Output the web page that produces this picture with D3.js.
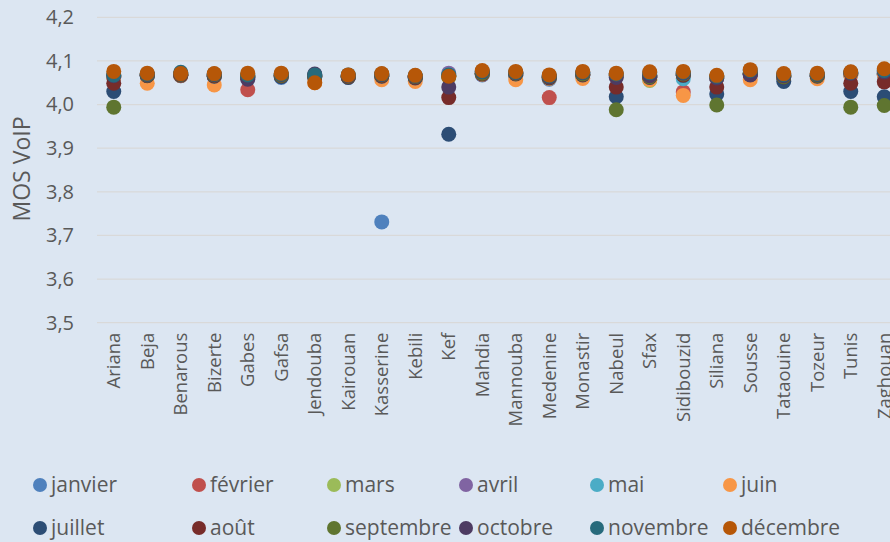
<!DOCTYPE html>
<html><head><meta charset="utf-8">
<script src="https://cdn.jsdelivr.net/npm/d3@7"></script>
<style>html,body{margin:0;padding:0;background:#dce6f2;overflow:hidden}</style>
</head><body><svg id="c" width="890" height="542"></svg>
<script>
const categories = ["Ariana","Beja","Benarous","Bizerte","Gabes","Gafsa","Jendouba","Kairouan","Kasserine","Kebili","Kef","Mahdia","Mannouba","Medenine","Monastir","Nabeul","Sfax","Sidibouzid","Siliana","Sousse","Tataouine","Tozeur","Tunis","Zaghouan"];
const months = ["janvier","février","mars","avril","mai","juin","juillet","août","septembre","octobre","novembre","décembre"];
const colors = ["#4F81BD","#C0504D","#9BBB59","#8064A2","#4BACC6","#F79646","#2C4D75","#772C2A","#5F7530","#4D3B62","#276A7C","#B65708"];
const yTicks = [3.5,3.6,3.7,3.8,3.9,4.0,4.1,4.2];

const janvier  = [4.062,4.065,4.066,4.064,4.061,4.062,4.064,4.062,3.731,4.061,4.065,4.068,4.066,4.058,4.066,4.066,4.063,4.068,4.060,4.069,4.063,4.064,4.068,4.068];
const fevrier  = [4.063,4.066,4.067,4.065,4.034,4.065,4.065,4.063,4.065,4.062,4.066,4.069,4.067,4.016,4.067,4.067,4.064,4.029,4.061,4.070,4.064,4.065,4.069,4.069];
const mars     = [4.064,4.067,4.068,4.066,4.063,4.066,4.066,4.064,4.066,4.063,4.067,4.070,4.068,4.061,4.068,4.068,4.055,4.069,4.062,4.071,4.065,4.066,4.070,4.070];
const avril    = [4.065,4.068,4.069,4.067,4.064,4.067,4.068,4.065,4.067,4.064,4.072,4.071,4.069,4.062,4.069,4.069,4.067,4.070,4.063,4.072,4.066,4.067,4.071,4.071];
const mai      = [4.066,4.069,4.070,4.068,4.066,4.068,4.067,4.066,4.068,4.065,4.068,4.072,4.070,4.063,4.070,4.070,4.068,4.059,4.064,4.073,4.067,4.068,4.072,4.072];
const juin     = [4.064,4.049,4.066,4.045,4.063,4.066,4.050,4.063,4.057,4.053,4.062,4.070,4.057,4.060,4.060,4.068,4.057,4.021,4.064,4.057,4.066,4.059,4.068,4.070];
const juillet  = [4.030,4.066,4.067,4.065,4.062,4.064,4.063,4.062,4.065,4.061,3.932,4.070,4.070,4.061,4.068,4.018,4.062,4.067,4.024,4.069,4.053,4.065,4.030,4.018];
const aout     = [4.049,4.067,4.068,4.066,4.064,4.066,4.064,4.064,4.066,4.062,4.016,4.071,4.071,4.062,4.069,4.040,4.063,4.068,4.040,4.070,4.063,4.066,4.049,4.052];
const septembre= [3.994,4.068,4.069,4.068,4.066,4.067,4.066,4.065,4.068,4.064,4.064,4.072,4.072,4.063,4.070,3.988,4.064,4.070,3.999,4.072,4.064,4.067,3.994,3.998];
const octobre  = [4.066,4.069,4.070,4.069,4.058,4.069,4.070,4.066,4.069,4.065,4.040,4.075,4.073,4.064,4.073,4.062,4.066,4.072,4.061,4.068,4.066,4.069,4.072,4.075];
const novembre = [4.068,4.070,4.074,4.070,4.068,4.070,4.068,4.068,4.070,4.066,4.068,4.076,4.074,4.066,4.074,4.070,4.073,4.074,4.065,4.078,4.069,4.070,4.074,4.078];
const decembre = [4.076,4.072,4.071,4.071,4.072,4.072,4.050,4.068,4.071,4.067,4.065,4.078,4.076,4.068,4.076,4.072,4.075,4.076,4.067,4.080,4.071,4.072,4.075,4.082];
const seriesValues = [janvier,fevrier,mars,avril,mai,juin,juillet,aout,septembre,octobre,novembre,decembre];

const font = "'Open Sans', 'Liberation Sans', sans-serif";
const txt = "#595959";
const svg = d3.select("#c");
svg.append("rect").attr("width",890).attr("height",542).attr("fill","#dce6f2");

const x = d3.scaleBand().domain(categories).range([97, 901]);
const y = d3.scaleLinear().domain([3.5, 4.2]).range([322.7, 17.3]);

// gridlines
svg.append("g").selectAll("line").data(yTicks).join("line")
  .attr("x1",97).attr("x2",901)
  .attr("y1",d=>y(d)).attr("y2",d=>y(d))
  .attr("stroke","#d9d9d9").attr("stroke-width",1.3);

// y axis
const yAxis = svg.append("g").attr("transform","translate(97,0)")
  .call(d3.axisLeft(y).tickValues(yTicks).tickSize(0).tickPadding(23)
    .tickFormat(d=>d3.format(".1f")(d).replace(".",",")));
yAxis.select(".domain").remove();
yAxis.selectAll("text").attr("fill",txt).style("font-family",font).style("font-size","20px");

// x axis
const xAxis = svg.append("g").attr("transform","translate(0,322.7)")
  .call(d3.axisBottom(x).tickSize(0).tickPadding(0));
xAxis.select(".domain").remove();
xAxis.selectAll("text")
  .attr("fill",txt).style("font-family",font).style("font-size","18.5px")
  .attr("text-anchor","end")
  .attr("transform","rotate(-90)")
  .attr("x",-10).attr("y",0).attr("dy","0.35em");

// y title
svg.append("text").attr("transform","translate(30,169) rotate(-90)")
  .attr("text-anchor","middle").attr("fill",txt)
  .style("font-family",font).style("font-size","23px").text("MOS VoIP");

// points
const pts = svg.append("g");
seriesValues.forEach((vals,i)=>{
  pts.append("g").selectAll("circle").data(vals).join("circle")
    .attr("cx",(d,j)=>x(categories[j])+x.bandwidth()/2)
    .attr("cy",d=>y(d)).attr("r",7.5).attr("fill",colors[i]);
});

// legend
const legX = [40,199,334,466,597,730];
const legY = [485,528];
const leg = svg.append("g");
months.forEach((m,i)=>{
  const lx = legX[i%6], ly = legY[Math.floor(i/6)];
  leg.append("circle").attr("cx",lx).attr("cy",ly).attr("r",7).attr("fill",colors[i]);
  leg.append("text").attr("x",lx+11).attr("y",ly).attr("dy","0.35em")
    .attr("fill",txt).style("font-family",font).style("font-size","21px").text(m);
});
</script></body></html>
